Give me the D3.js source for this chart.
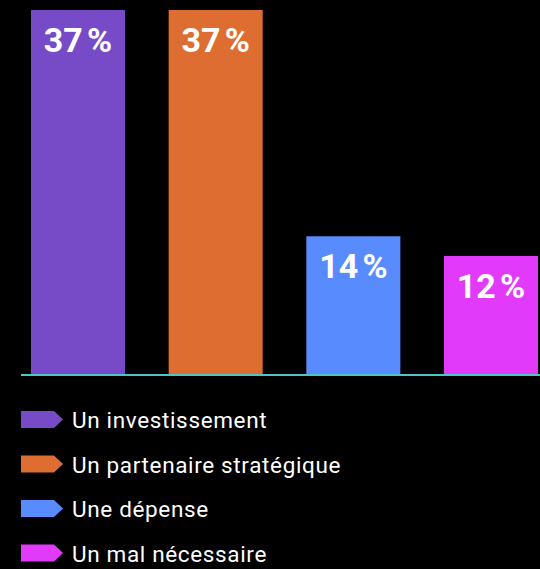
<!DOCTYPE html>
<html>
<head>
<meta charset="utf-8">
<script src="https://cdn.jsdelivr.net/npm/d3@7/dist/d3.min.js"></script>
<style>
  html, body { margin: 0; padding: 0; background: #000; }
  svg { display: block; }
</style>
</head>
<body>
<svg id="chart" width="540" height="569"></svg>
<script>
// Survey answers: how the function is perceived (share of respondents, %)
const categories = ["Un investissement", "Un partenaire stratégique", "Une dépense", "Un mal nécessaire"];
const values = [37, 37, 14, 12];
const colors = ["#774bc8", "#de6d32", "#588cfe", "#e23afa"];

const svg = d3.select("#chart");
const W = 540;

const x = d3.scaleBand()
  .domain(categories)
  .range([31, 538])
  .paddingInner(0.317)
  .paddingOuter(0);

const y = d3.scaleLinear()
  .domain([0, 37])
  .range([374, 10]);

// Bars
svg.append("g")
  .selectAll("rect")
  .data(values)
  .join("rect")
  .attr("x", (d, i) => x(categories[i]))
  .attr("y", d => y(d))
  .attr("width", x.bandwidth())
  .attr("height", d => y(0) - y(d))
  .attr("fill", (d, i) => colors[i]);

// Value labels inside the top of each bar
svg.append("g")
  .selectAll("text")
  .data(values)
  .join("text")
  .attr("x", (d, i) => x(categories[i]) + x.bandwidth() / 2)
  .attr("y", d => y(d) + 42)
  .attr("text-anchor", "middle")
  .attr("fill", "#fff")
  .style("font-family", "Roboto, 'Noto Sans', sans-serif")
  .style("font-weight", "700")
  .style("font-size", "34px")
  .text(d => d + "\u202F%");

// Baseline
svg.append("line")
  .attr("x1", 21).attr("x2", W)
  .attr("y1", y(0) + 1).attr("y2", y(0) + 1)
  .attr("stroke", "#4fc4c4")
  .attr("stroke-width", 2);

// Legend with arrow-shaped swatches
const legend = svg.append("g")
  .selectAll("g")
  .data(categories)
  .join("g")
  .attr("transform", (d, i) => `translate(21, ${428 + i * 44.5})`);

legend.append("path")
  .attr("d", "M0,-17 L33,-17 L42,-8.5 L33,0 L0,0 Z")
  .attr("fill", (d, i) => colors[i]);

legend.append("text")
  .attr("x", 51)
  .attr("y", 0)
  .attr("fill", "#fff")
  .style("font-family", "Roboto, 'Noto Sans', sans-serif")
  .style("font-size", "22.5px")
  .style("letter-spacing", "0.65px")
  .text(d => d);
</script>
</body>
</html>
